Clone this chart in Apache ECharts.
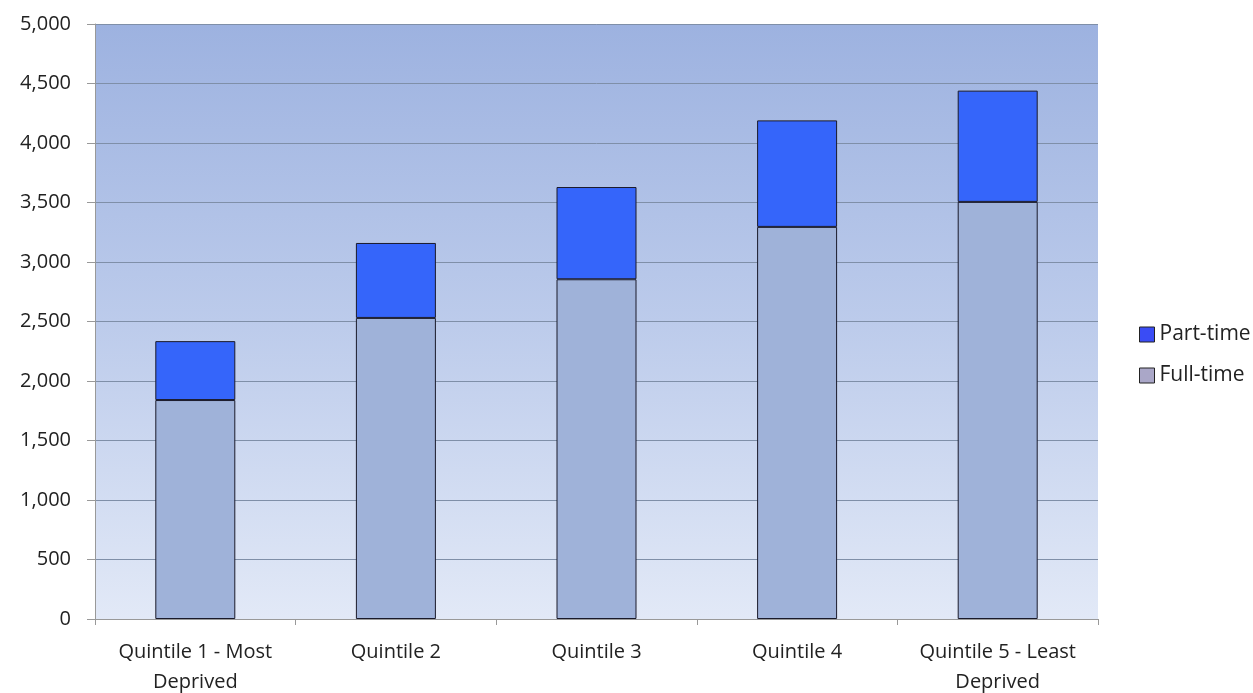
<!DOCTYPE html>
<html>
<head>
<meta charset="utf-8">
<script src="https://cdn.jsdelivr.net/npm/echarts@6/dist/echarts.min.js"></script>
<style>
  html, body { margin: 0; padding: 0; background: #fff; }
  #chart { width: 1253px; height: 693px; }
</style>
</head>
<body>
<div id="chart"></div>
<script>
const categories = ['Quintile 1 - Most\nDeprived', 'Quintile 2', 'Quintile 3', 'Quintile 4', 'Quintile 5 - Least\nDeprived']
const fullTime = [1840, 2530, 2855, 3295, 3505]
const partTime = [495, 630, 775, 895, 935]

const chart = echarts.init(document.getElementById('chart'))
const font = 'Open Sans, Noto Sans, sans-serif'

const option = {
  animation: false,
  textStyle: { fontFamily: font },
  grid: {
    left: 95,
    right: 155,
    top: 24,
    bottom: 74,
    outerBoundsMode: 'none',
    show: true,
    borderWidth: 0,
    backgroundColor: {
      type: 'linear', x: 0, y: 0, x2: 0, y2: 1,
      colorStops: [
        { offset: 0, color: '#9db2e0' },
        { offset: 0.5, color: '#bccbeb' },
        { offset: 1, color: '#e2e9f7' }
      ]
    }
  },
  legend: {
    orient: 'vertical',
    left: 1134,
    top: 319,
    itemGap: 20,
    itemWidth: 15,
    itemHeight: 15,
    icon: 'rect',
    textStyle: { fontSize: 21, color: '#222', fontFamily: font },
    data: [
      { name: 'Part-time', itemStyle: { color: '#3a4cf5', borderColor: '#222', borderWidth: 1 } },
      { name: 'Full-time', itemStyle: { color: '#aaa7c8', borderColor: '#222', borderWidth: 1 } }
    ]
  },
  xAxis: {
    type: 'category',
    data: categories,
    axisLine: { show: true, lineStyle: { color: '#999' } },
    axisTick: { show: true, length: 6, lineStyle: { color: '#999' } },
    axisLabel: { interval: 0, fontSize: 20, color: '#222', margin: 18, lineHeight: 30 }
  },
  yAxis: {
    type: 'value',
    min: 0,
    max: 5000,
    interval: 500,
    axisLine: { show: true, lineStyle: { color: '#999' } },
    axisTick: { show: true, length: 8, lineStyle: { color: '#999' } },
    axisLabel: {
      fontSize: 20,
      color: '#222',
      margin: 24,
      formatter: v => v.toLocaleString('en-US')
    },
    splitLine: { lineStyle: { color: '#7f8fa8', width: 1 } }
  },
  series: [
    {
      name: 'Full-time',
      type: 'bar',
      stack: 'total',
      barWidth: 80,
      data: fullTime,
      itemStyle: { color: '#9fb2d9', borderColor: '#1a1a2a', borderWidth: 1 }
    },
    {
      name: 'Part-time',
      type: 'bar',
      stack: 'total',
      barWidth: 80,
      data: partTime,
      itemStyle: { color: '#3565fa', borderColor: '#1a1a2a', borderWidth: 1 }
    }
  ]
}
chart.setOption(option)
</script>
</body>
</html>
